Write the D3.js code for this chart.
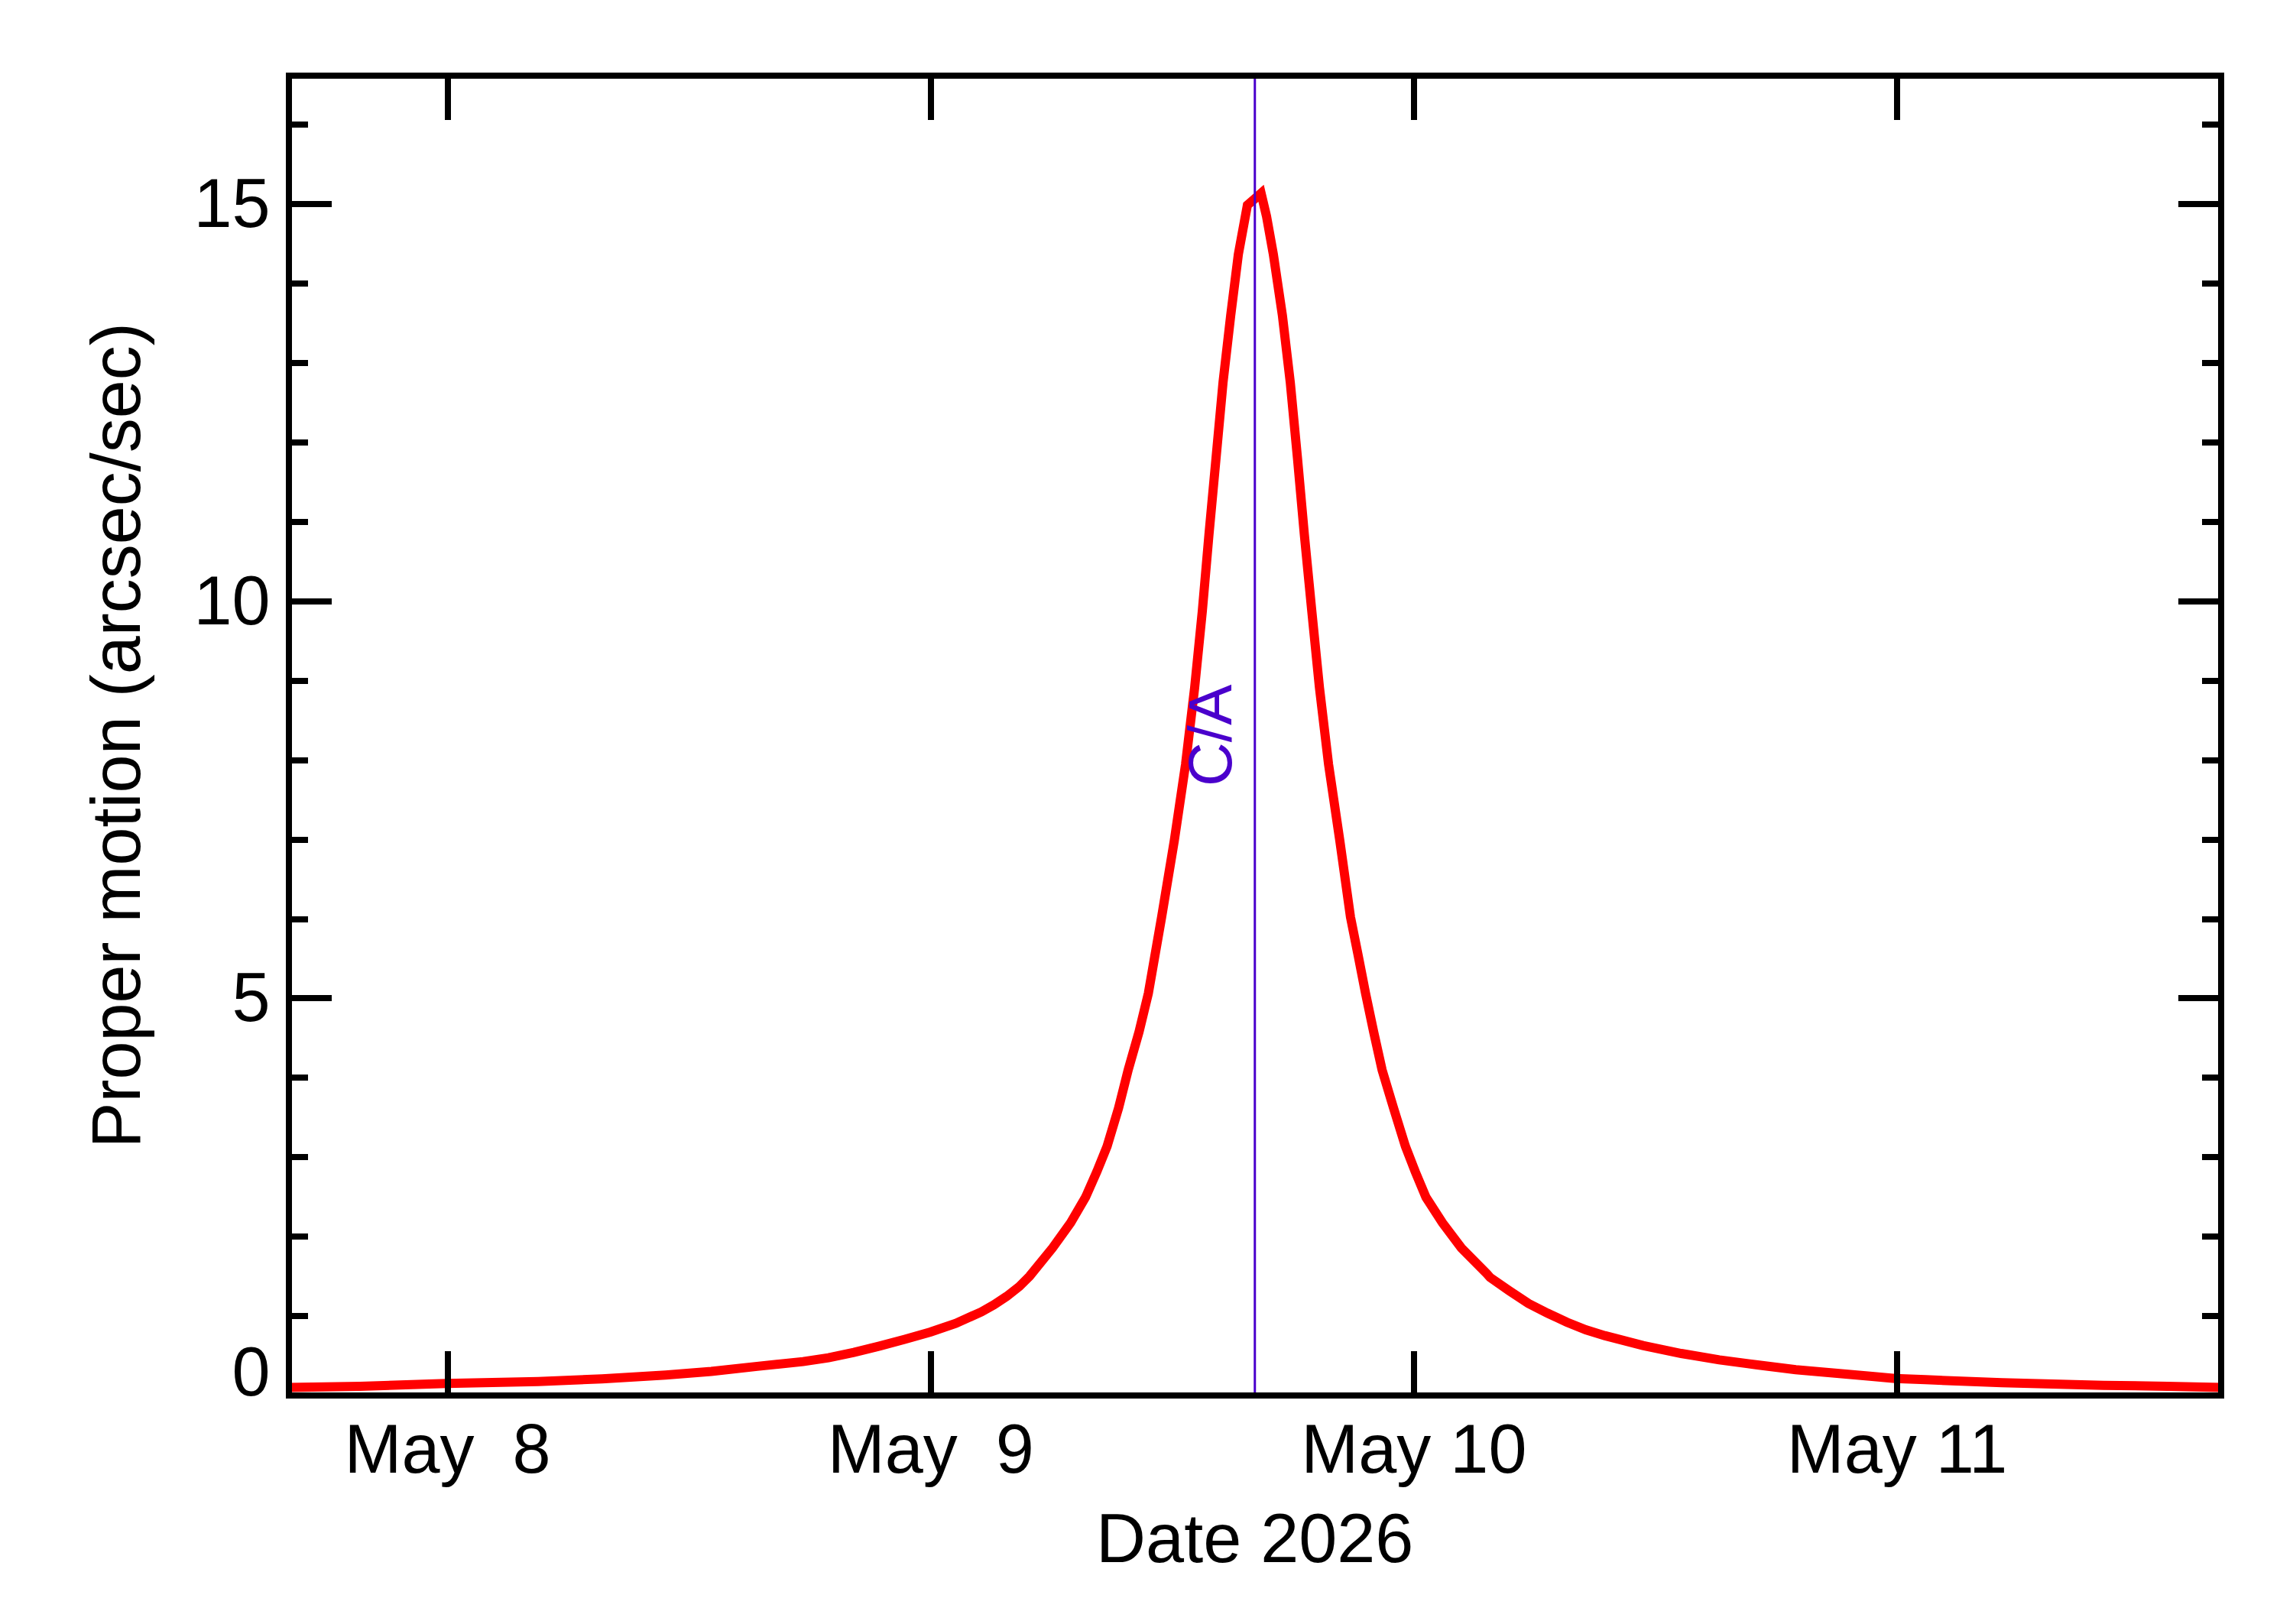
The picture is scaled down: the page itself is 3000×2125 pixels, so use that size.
<!DOCTYPE html>
<html>
<head>
<meta charset="utf-8">
<script src="https://cdn.jsdelivr.net/npm/d3@7"></script>
<style>
body { margin: 0; background: #fff; }
svg text { font-family: "Liberation Sans", Arial, Helvetica, sans-serif; }
</style>
</head>
<body>
<div id="chart"></div>
<script>
// Closest approach time (UTC) and proper motion, hours relative to C/A
var caTime = "2026-05-09T16:07:00Z";
var hoursFromCA = [-48.0, -44.44, -40.15, -35.6, -32.43, -29.27, -27.0, -24.72, -22.44, -21.18,
    -19.92, -18.65, -17.39, -16.12, -14.86, -13.59, -12.96, -12.33, -11.7, -11.19,
    -10.05, -9.15, -8.41, -7.85, -7.34, -6.77, -6.29, -5.75, -5.29, -4.63,
    -4.0, -3.44, -2.99, -2.61, -2.28, -1.93, -1.58, -1.2, -0.82, -0.37,
    0.31, 0.58, 0.92, 1.37, 1.76, 2.12, 2.46, 2.83, 3.21, 3.66,
    4.22, 4.75, 5.13, 5.5, 5.9, 6.32, 6.89, 7.48, 7.97, 8.5,
    9.32, 10.26, 11.53, 11.69, 12.64, 13.59, 14.54, 15.49, 16.44, 17.38,
    19.28, 21.18, 23.07, 24.97, 26.87, 30.66, 31.8, 33.31, 37.11, 42.15,
    45.33, 48.0];
var motion = [0.10, 0.114, 0.149, 0.174, 0.207, 0.255, 0.301, 0.365, 0.425, 0.473,
    0.540, 0.62, 0.705, 0.797, 0.906, 1.05, 1.14, 1.245, 1.37, 1.50,
    1.855, 2.172, 2.493, 2.814, 3.134, 3.616, 4.097, 4.577, 5.059, 6.021,
    6.983, 7.945, 8.907, 9.869, 10.831, 11.79, 12.75, 13.59, 14.36, 14.98,
    15.13, 14.84, 14.36, 13.59, 12.75, 11.79, 10.83, 9.869, 8.907, 7.945,
    6.983, 6.021, 5.54, 5.059, 4.577, 4.097, 3.616, 3.134, 2.814, 2.493,
    2.172, 1.855, 1.53, 1.483, 1.316, 1.156, 1.034, 0.922, 0.825, 0.752,
    0.627, 0.527, 0.447, 0.383, 0.322, 0.239, 0.213, 0.197, 0.159, 0.126,
    0.114, 0.10];

// axis settings
var dayTicks = ["2026-05-08", "2026-05-09", "2026-05-10", "2026-05-11"];
var yMajor = [0, 5, 10, 15];
var yMinor = [1, 2, 3, 4, 6, 7, 8, 9, 11, 12, 13, 14, 16];
var yMax = 16.61;
var xTitle = "Date 2026";
var yTitle = "Proper motion (arcsec/sec)";
var caLabel = "C/A";

var W = 3000, H = 2125;
var margin = { top: 99, right: 94, bottom: 299.2, left: 377.5 },
    width = W - margin.left - margin.right,
    height = H - margin.top - margin.bottom;

var svg = d3.select("#chart").append("svg")
    .attr("width", W)
    .attr("height", H)
    .style("display", "block")
    .style("background", "#fff");

var g = svg.append("g")
    .attr("transform", "translate(" + margin.left + "," + margin.top + ")");

var ca = new Date(caTime);
var hour = 3600 * 1000;
var data = hoursFromCA.map(function(h, i) {
    return { t: new Date(ca.getTime() + h * hour), v: motion[i] };
});

var x = d3.scaleUtc()
    .domain([new Date(ca.getTime() - 48 * hour), new Date(ca.getTime() + 48 * hour)])
    .range([0, width]);
var y = d3.scaleLinear()
    .domain([0, yMax])
    .range([height, 0]);

// proper motion curve
var line = d3.line()
    .x(function(d) { return x(d.t); })
    .y(function(d) { return y(d.v); });

g.append("path")
    .datum(data)
    .attr("d", line)
    .attr("fill", "none")
    .attr("stroke", "#ff0000")
    .attr("stroke-width", 12)
    .attr("stroke-linejoin", "miter");

// closest approach marker
var purple = "#4a00cc";
g.append("line")
    .attr("x1", x(ca)).attr("x2", x(ca))
    .attr("y1", 0).attr("y2", height)
    .attr("stroke", purple)
    .attr("stroke-width", 3);

g.append("text")
    .attr("transform", "translate(" + (x(ca) - 31) + "," + (height / 2) + ") rotate(-90)")
    .attr("text-anchor", "middle")
    .style("font-size", "80px")
    .style("fill", purple)
    .text(caLabel);

// axes
var days = dayTicks.map(function(d) { return new Date(d + "T00:00:00Z"); });

function styleAxis(sel) {
    sel.select(".domain").remove();
    sel.selectAll(".tick line")
        .attr("stroke", "#000")
        .attr("stroke-width", 8)
        .style("shape-rendering", "crispEdges");
}

var xBottom = g.append("g")
    .attr("transform", "translate(0," + height + ")")
    .call(d3.axisBottom(x).tickValues(days).tickSize(-58).tickFormat(d3.utcFormat("%b %e")));
styleAxis(xBottom);
xBottom.selectAll(".tick text")
    .attr("y", 101)
    .attr("dy", 0)
    .attr("fill", "#000")
    .style("font-size", "90px")
    .style("white-space", "pre");

var xTop = g.append("g")
    .call(d3.axisTop(x).tickValues(days).tickSize(-58).tickFormat(""));
styleAxis(xTop);

var yLeft = g.append("g")
    .call(d3.axisLeft(y).tickValues(yMajor).tickSize(-56).tickFormat(d3.format("d")));
styleAxis(yLeft);
yLeft.selectAll(".tick text")
    .attr("x", -24)
    .attr("dy", 0)
    .attr("y", function(d) { return Math.min(30, height - y(d)); })
    .attr("fill", "#000")
    .style("font-size", "90px");

var yLeftMinor = g.append("g")
    .call(d3.axisLeft(y).tickValues(yMinor).tickSize(-25).tickFormat(""));
styleAxis(yLeftMinor);

var yRight = g.append("g")
    .attr("transform", "translate(" + width + ",0)")
    .call(d3.axisRight(y).tickValues(yMajor).tickSize(-56).tickFormat(""));
styleAxis(yRight);

var yRightMinor = g.append("g")
    .attr("transform", "translate(" + width + ",0)")
    .call(d3.axisRight(y).tickValues(yMinor).tickSize(-25).tickFormat(""));
styleAxis(yRightMinor);

// plot frame
g.append("rect")
    .attr("x", 0).attr("y", 0)
    .attr("width", width).attr("height", height)
    .attr("fill", "none")
    .attr("stroke", "#000")
    .attr("stroke-width", 8)
    .style("shape-rendering", "crispEdges");

// axis titles
g.append("text")
    .attr("x", width / 2)
    .attr("y", height + 218)
    .attr("text-anchor", "middle")
    .style("font-size", "90px")
    .text(xTitle);

g.append("text")
    .attr("transform", "translate(" + (183 - margin.left) + "," + (height / 2) + ") rotate(-90)")
    .attr("text-anchor", "middle")
    .style("font-size", "90px")
    .text(yTitle);
</script>
</body>
</html>
